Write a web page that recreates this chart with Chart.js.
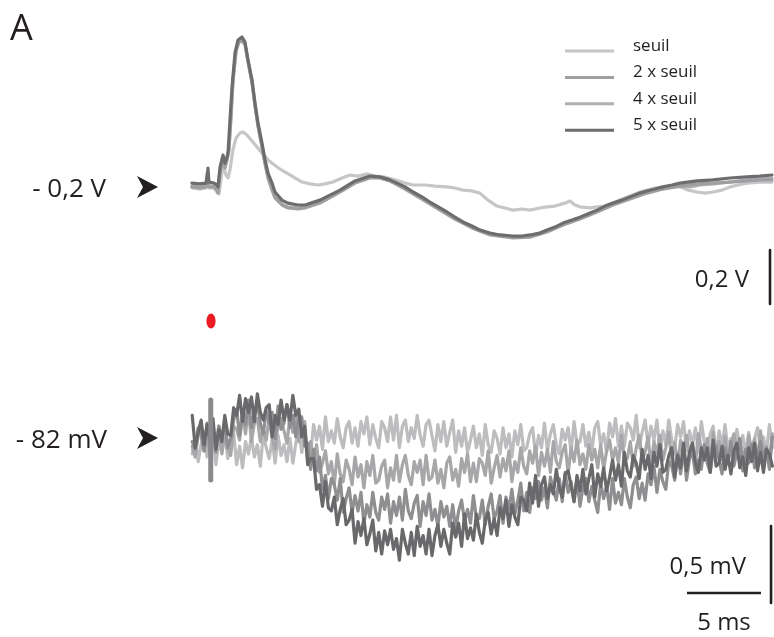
<!DOCTYPE html>
<html><head><meta charset="utf-8">
<script src="https://cdn.jsdelivr.net/npm/chart.js@4"></script>
<style>html,body{margin:0;padding:0;background:#fff;}#wrap{width:774px;height:637px;}</style>
</head><body><div id="wrap"><canvas id="c" width="774" height="637"></canvas></div>
<script>
// ---------- DATA ----------
// Top panel: field potential (V), [time ms, value V]
const topSeuil = [[-1.22,-0.211],[-0.68,-0.215],[-0.27,-0.211],[-0.14,-0.196],[-0.07,-0.211],[0.27,-0.211],[0.47,-0.226],[0.61,-0.233],[0.81,-0.152],[0.95,-0.137],[1.08,-0.163],[1.22,-0.174],[1.35,-0.144],[1.55,-0.070],[1.76,-0.026],[2.03,-0.007],[2.23,-0.004],[2.50,-0.015],[2.84,-0.037],[3.18,-0.059],[3.51,-0.081],[3.92,-0.107],[4.26,-0.122],[4.73,-0.141],[5.20,-0.156],[5.74,-0.174],[6.22,-0.189],[6.76,-0.196],[7.30,-0.200],[7.77,-0.196],[8.31,-0.189],[8.92,-0.174],[9.46,-0.163],[10.00,-0.167],[10.61,-0.159],[11.15,-0.167],[11.69,-0.170],[12.50,-0.181],[13.18,-0.193],[13.72,-0.200],[14.53,-0.200],[15.20,-0.204],[16.01,-0.207],[16.55,-0.211],[17.09,-0.219],[17.70,-0.222],[18.24,-0.230],[18.78,-0.256],[19.39,-0.278],[19.93,-0.285],[20.47,-0.293],[21.08,-0.289],[21.62,-0.293],[22.30,-0.285],[22.77,-0.281],[23.31,-0.278],[23.99,-0.267],[24.32,-0.259],[24.66,-0.274],[25.00,-0.281],[25.68,-0.285],[26.15,-0.281],[26.69,-0.278],[27.23,-0.267],[27.84,-0.252],[28.38,-0.241],[29.05,-0.226],[29.53,-0.219],[30.07,-0.211],[30.61,-0.207],[31.22,-0.204],[31.76,-0.207],[32.30,-0.219],[32.91,-0.226],[33.45,-0.230],[33.99,-0.226],[34.59,-0.219],[35.14,-0.207],[35.68,-0.200],[36.28,-0.193],[37.16,-0.189],[37.97,-0.189]];
const top2x = [[-1.22,-0.207],[-0.68,-0.211],[-0.27,-0.207],[-0.14,-0.181],[-0.07,-0.207],[0.27,-0.207],[0.47,-0.219],[0.54,-0.230],[0.68,-0.152],[0.88,-0.107],[1.01,-0.137],[1.15,-0.107],[1.28,-0.070],[1.42,0.059],[1.55,0.189],[1.76,0.300],[1.96,0.330],[2.16,0.333],[2.36,0.322],[2.57,0.256],[2.84,0.178],[3.04,0.093],[3.24,0.019],[3.51,-0.059],[3.72,-0.122],[3.92,-0.174],[4.19,-0.219],[4.39,-0.248],[4.86,-0.274],[5.27,-0.285],[5.95,-0.289],[6.42,-0.285],[7.43,-0.267],[8.78,-0.226],[9.80,-0.193],[10.81,-0.174],[11.49,-0.174],[12.16,-0.185],[13.18,-0.215],[14.32,-0.252],[15.54,-0.293],[16.55,-0.326],[17.70,-0.359],[18.92,-0.385],[20.47,-0.396],[21.62,-0.393],[22.77,-0.374],[23.85,-0.348],[25.00,-0.326],[26.15,-0.300],[27.23,-0.274],[28.38,-0.252],[29.53,-0.230],[30.61,-0.215],[31.76,-0.204],[32.91,-0.196],[33.99,-0.193],[35.14,-0.189],[36.28,-0.185],[37.16,-0.181],[37.97,-0.181]];
const top4x = [[-1.22,-0.204],[-0.68,-0.207],[-0.27,-0.204],[-0.14,-0.167],[-0.07,-0.204],[0.27,-0.204],[0.47,-0.215],[0.54,-0.222],[0.68,-0.144],[0.88,-0.100],[1.01,-0.130],[1.15,-0.104],[1.28,-0.063],[1.42,0.048],[1.55,0.181],[1.76,0.293],[1.96,0.333],[2.16,0.337],[2.36,0.326],[2.57,0.259],[2.84,0.181],[3.04,0.096],[3.24,0.022],[3.51,-0.056],[3.72,-0.119],[3.92,-0.170],[4.19,-0.211],[4.39,-0.241],[4.86,-0.270],[5.27,-0.281],[5.95,-0.285],[6.42,-0.281],[7.43,-0.263],[8.78,-0.222],[9.80,-0.189],[10.81,-0.170],[11.49,-0.174],[12.16,-0.185],[13.18,-0.211],[14.32,-0.248],[15.54,-0.289],[16.55,-0.322],[17.70,-0.356],[18.92,-0.381],[20.47,-0.393],[21.62,-0.389],[22.77,-0.370],[23.85,-0.344],[25.00,-0.322],[26.15,-0.296],[27.23,-0.270],[28.38,-0.248],[29.53,-0.226],[30.61,-0.211],[31.76,-0.204],[32.43,-0.207],[33.11,-0.200],[33.99,-0.196],[35.14,-0.189],[36.28,-0.181],[37.16,-0.178],[37.97,-0.174]];
const top5x = [[-1.22,-0.193],[-0.68,-0.196],[-0.27,-0.193],[-0.17,-0.152],[-0.14,-0.137],[-0.07,-0.189],[0.27,-0.193],[0.47,-0.200],[0.54,-0.207],[0.68,-0.133],[0.88,-0.089],[1.01,-0.119],[1.15,-0.096],[1.22,-0.081],[1.35,0.041],[1.49,0.163],[1.69,0.289],[1.89,0.337],[2.16,0.348],[2.36,0.330],[2.57,0.263],[2.84,0.189],[3.04,0.104],[3.24,0.030],[3.51,-0.044],[3.72,-0.107],[3.92,-0.156],[4.19,-0.193],[4.39,-0.226],[4.86,-0.256],[5.27,-0.267],[5.95,-0.274],[6.42,-0.274],[7.43,-0.256],[8.78,-0.219],[9.80,-0.185],[10.81,-0.167],[11.49,-0.170],[12.16,-0.181],[12.64,-0.193],[13.18,-0.207],[13.72,-0.226],[14.32,-0.244],[14.86,-0.263],[15.54,-0.285],[16.01,-0.300],[16.55,-0.319],[17.09,-0.337],[17.70,-0.352],[18.24,-0.367],[18.92,-0.378],[19.59,-0.385],[20.47,-0.389],[21.08,-0.389],[21.62,-0.385],[22.30,-0.378],[22.77,-0.367],[23.31,-0.356],[23.85,-0.341],[24.46,-0.330],[25.00,-0.319],[25.68,-0.304],[26.15,-0.293],[26.69,-0.278],[27.23,-0.267],[27.84,-0.256],[28.38,-0.244],[29.05,-0.230],[29.53,-0.222],[30.07,-0.215],[30.61,-0.207],[31.22,-0.200],[31.76,-0.193],[32.91,-0.185],[33.99,-0.181],[35.14,-0.174],[36.28,-0.170],[37.16,-0.167],[37.97,-0.163]];

// Bottom panel: membrane potential (mV), on a common time base (ms)
const botTime = [-1.2,-1,-0.8,-0.6,-0.4,-0.2,0,0.2,0.4,0.6,0.8,1,1.2,1.4,1.6,1.8,2,2.2,2.4,2.6,
2.8,3,3.2,3.4,3.6,3.8,4,4.2,4.4,4.6,4.8,5,5.2,5.4,5.6,5.8,6,6.2,6.4,6.6,
6.8,7,7.2,7.4,7.6,7.8,8,8.2,8.4,8.6,8.8,9,9.2,9.4,9.6,9.8,10,10.2,10.4,10.6,
10.8,11,11.2,11.4,11.6,11.8,12,12.2,12.4,12.6,12.8,13,13.2,13.4,13.6,13.8,14,14.2,14.4,14.6,
14.8,15,15.2,15.4,15.6,15.8,16,16.2,16.4,16.6,16.8,17,17.2,17.4,17.6,17.8,18,18.2,18.4,18.6,
18.8,19,19.2,19.4,19.6,19.8,20,20.2,20.4,20.6,20.8,21,21.2,21.4,21.6,21.8,22,22.2,22.4,22.6,
22.8,23,23.2,23.4,23.6,23.8,24,24.2,24.4,24.6,24.8,25,25.2,25.4,25.6,25.8,26,26.2,26.4,26.6,
26.8,27,27.2,27.4,27.6,27.8,28,28.2,28.4,28.6,28.8,29,29.2,29.4,29.6,29.8,30,30.2,30.4,30.6,
30.8,31,31.2,31.4,31.6,31.8,32,32.2,32.4,32.6,32.8,33,33.2,33.4,33.6,33.8,34,34.2,34.4,34.6,
34.8,35,35.2,35.4,35.6,35.8,36,36.2,36.4,36.6,36.8,37,37.2,37.4,37.6,37.8,38];
const botSeuil = [-82.11,-82.00,-82.16,-82.05,-81.97,-82.13,-82.08,-81.99,-82.18,-82.02,-82.10,-81.98,-82.14,-82.07,-81.98,-82.18,-82.06,-82.20,-82.03,-82.11,
-82.00,-82.13,-82.05,-82.19,-81.98,-82.07,-82.14,-82.02,-82.17,-81.99,-82.12,-82.05,-82.16,-82.01,-82.17,-82.04,-81.96,-82.10,-81.98,-82.06,
-82.11,-81.92,-82.02,-81.93,-82.08,-81.87,-82.03,-81.96,-82.04,-81.88,-82.00,-82.07,-81.94,-81.90,-82.04,-81.94,-82.06,-81.90,-81.98,-81.87,
-82.05,-81.92,-82.01,-82.07,-81.90,-81.94,-82.03,-81.87,-82.02,-81.86,-82.07,-81.93,-81.89,-82.03,-81.94,-82.01,-81.86,-81.99,-82.06,-81.92,
-81.89,-81.99,-82.09,-81.92,-82.03,-81.90,-82.06,-81.97,-81.89,-82.10,-81.96,-82.06,-81.94,-82.10,-82.02,-81.93,-82.07,-81.98,-82.12,-81.92,
-82.05,-82.10,-81.96,-82.01,-82.11,-81.94,-82.07,-81.98,-82.13,-81.96,-82.05,-81.92,-82.09,-82.07,-81.98,-81.94,-82.12,-81.99,-82.07,-81.91,
-82.09,-81.98,-81.92,-82.05,-82.11,-81.95,-82.02,-81.94,-82.10,-81.90,-82.05,-82.03,-81.92,-82.06,-81.97,-82.09,-81.94,-81.90,-82.05,-81.98,
-82.10,-81.91,-82.00,-81.88,-82.06,-81.93,-82.06,-81.91,-81.94,-82.02,-81.86,-82.07,-81.97,-81.89,-82.05,-81.93,-82.02,-81.89,-82.09,-81.96,
-82.05,-81.89,-82.02,-82.07,-81.92,-82.00,-81.90,-82.09,-81.96,-82.05,-81.94,-82.10,-81.90,-82.03,-82.08,-81.98,-81.93,-82.12,-81.96,-82.06,
-81.92,-82.08,-82.01,-82.11,-81.95,-82.06,-81.99,-82.11,-81.97,-82.13,-82.01,-81.94,-82.08,-82.00,-82.10,-81.92,-82.07];
const bot2x = [-82.06,-82.13,-81.99,-81.95,-82.09,-82.00,-82.12,-81.96,-82.04,-81.93,-82.11,-81.98,-82.07,-82.12,-81.93,-81.95,-82.02,-81.85,-81.98,-81.82,
-82.03,-81.91,-81.88,-82.03,-81.95,-82.02,-81.87,-82.01,-82.08,-81.92,-81.88,-81.96,-82.04,-81.87,-81.97,-81.85,-82.03,-81.96,-81.90,-82.14,
-82.03,-82.15,-82.05,-82.23,-82.17,-82.09,-82.24,-82.16,-82.31,-82.11,-82.24,-82.29,-82.15,-82.21,-82.31,-82.13,-82.26,-82.18,-82.33,-82.16,
-82.25,-82.12,-82.30,-82.28,-82.19,-82.15,-82.33,-82.20,-82.28,-82.12,-82.29,-82.18,-82.12,-82.25,-82.31,-82.16,-82.23,-82.15,-82.31,-82.12,
-82.28,-82.26,-82.15,-82.30,-82.21,-82.33,-82.17,-82.13,-82.28,-82.21,-82.32,-82.14,-82.23,-82.11,-82.29,-82.17,-82.29,-82.14,-82.17,-82.25,
-82.09,-82.30,-82.20,-82.12,-82.26,-82.14,-82.22,-82.09,-82.29,-82.16,-82.23,-82.07,-82.19,-82.24,-82.09,-82.17,-82.06,-82.25,-82.10,-82.19,
-82.08,-82.23,-82.03,-82.16,-82.20,-82.10,-82.05,-82.24,-82.07,-82.16,-82.02,-82.18,-82.11,-82.21,-82.05,-82.15,-82.08,-82.20,-82.05,-82.21,
-82.09,-82.02,-82.15,-82.07,-82.17,-81.99,-82.14,-82.14,-82.03,-82.19,-82.07,-81.99,-82.15,-82.10,-82.00,-82.19,-82.03,-82.11,-81.99,-82.15,
-82.07,-81.97,-82.16,-82.04,-82.18,-82.02,-82.09,-81.99,-82.12,-82.04,-82.18,-81.98,-82.07,-82.14,-82.01,-82.16,-81.97,-82.10,-82.03,-82.15,
-82.00,-82.17,-82.05,-81.98,-82.13,-82.02,-82.11,-82.18,-81.99,-82.09,-82.01,-82.16,-81.96,-82.12,-82.06,-82.14,-81.98];
const bot4x = [-82.03,-82.08,-81.94,-81.99,-82.09,-81.91,-82.04,-81.95,-82.10,-81.93,-82.02,-81.89,-82.07,-82.01,-81.89,-81.82,-81.99,-81.85,-81.92,-81.76,
-81.94,-81.83,-81.78,-81.91,-81.98,-81.83,-81.91,-81.84,-82.01,-81.80,-81.95,-81.91,-81.79,-81.94,-81.86,-82.00,-81.87,-81.87,-82.06,-82.04,
-82.21,-82.08,-82.22,-82.13,-82.34,-82.25,-82.40,-82.27,-82.31,-82.41,-82.27,-82.49,-82.40,-82.33,-82.49,-82.38,-82.48,-82.36,-82.56,-82.44,
-82.52,-82.36,-82.49,-82.54,-82.39,-82.47,-82.37,-82.56,-82.42,-82.51,-82.39,-82.54,-82.34,-82.48,-82.53,-82.43,-82.38,-82.58,-82.42,-82.51,
-82.37,-82.54,-82.47,-82.58,-82.42,-82.52,-82.45,-82.58,-82.44,-82.60,-82.48,-82.41,-82.55,-82.47,-82.56,-82.38,-82.53,-82.53,-82.41,-82.57,
-82.45,-82.37,-82.53,-82.48,-82.38,-82.56,-82.39,-82.47,-82.34,-82.50,-82.41,-82.30,-82.48,-82.36,-82.49,-82.33,-82.40,-82.29,-82.41,-82.33,
-82.46,-82.26,-82.34,-82.41,-82.27,-82.42,-82.23,-82.36,-82.29,-82.42,-82.27,-82.45,-82.33,-82.27,-82.42,-82.32,-82.41,-82.49,-82.30,-82.40,
-82.32,-82.47,-82.27,-82.43,-82.36,-82.44,-82.27,-82.39,-82.46,-82.31,-82.26,-82.40,-82.30,-82.41,-82.24,-82.31,-82.19,-82.36,-82.21,-82.29,
-82.34,-82.16,-82.19,-82.28,-82.11,-82.24,-82.07,-82.28,-82.14,-82.10,-82.24,-82.15,-82.21,-82.05,-82.17,-82.23,-82.09,-82.06,-82.15,-82.24,
-82.07,-82.17,-82.03,-82.19,-82.10,-82.01,-82.22,-82.08,-82.17,-82.05,-82.20,-82.12,-82.03,-82.17,-82.07,-82.21,-82.00];
const bot5x = [-81.86,-82.07,-81.97,-81.89,-82.05,-81.92,-82.01,-81.88,-82.08,-81.95,-82.03,-81.86,-81.98,-81.99,-81.81,-81.86,-81.73,-81.90,-81.75,-81.84,
-81.74,-81.90,-81.72,-81.84,-81.89,-81.81,-81.79,-82.00,-81.86,-81.92,-81.76,-81.89,-81.79,-81.89,-81.73,-81.86,-81.82,-82.00,-81.93,-82.18,
-82.14,-82.14,-82.34,-82.31,-82.45,-82.29,-82.46,-82.48,-82.39,-82.57,-82.47,-82.40,-82.57,-82.54,-82.47,-82.69,-82.55,-82.64,-82.53,-82.70,
-82.63,-82.54,-82.74,-82.62,-82.76,-82.61,-82.70,-82.60,-82.73,-82.66,-82.80,-82.60,-82.69,-82.76,-82.62,-82.77,-82.58,-82.71,-82.64,-82.76,
-82.60,-82.77,-82.64,-82.57,-82.71,-82.60,-82.69,-82.76,-82.56,-82.65,-82.56,-82.71,-82.50,-82.66,-82.59,-82.67,-82.50,-82.62,-82.69,-82.54,
-82.49,-82.63,-82.53,-82.64,-82.46,-82.53,-82.41,-82.58,-82.44,-82.52,-82.57,-82.39,-82.41,-82.48,-82.30,-82.43,-82.25,-82.45,-82.31,-82.26,
-82.40,-82.31,-82.37,-82.21,-82.33,-82.39,-82.24,-82.22,-82.32,-82.42,-82.25,-82.35,-82.21,-82.37,-82.27,-82.18,-82.39,-82.24,-82.32,-82.20,
-82.35,-82.26,-82.15,-82.28,-82.18,-82.32,-82.10,-82.22,-82.26,-82.12,-82.17,-82.27,-82.08,-82.21,-82.12,-82.27,-82.10,-82.19,-82.05,-82.23,
-82.21,-82.12,-82.07,-82.26,-82.12,-82.20,-82.04,-82.22,-82.10,-82.04,-82.17,-82.23,-82.07,-82.15,-82.07,-82.23,-82.02,-82.19,-82.17,-82.06,
-82.21,-82.12,-82.24,-82.09,-82.04,-82.20,-82.13,-82.25,-82.07,-82.16,-82.04,-82.22,-82.10,-82.23,-82.08,-82.11,-82.19];
// stimulus artifact on the intracellular trace (time ms, mV)
const stimArtifact = [[0.05,-81.76],[0.05,-82.28]];

const legendLabels = ['seuil','2 x seuil','4 x seuil','5 x seuil'];
const topBaselineV = -0.2;   // "- 0,2 V"
const botBaselinemV = -82;   // "- 82 mV"

// ---------- STYLE / LAYOUT ----------
const topColors = ['#c6c6c8','#9f9fa1','#b0b0b2','#6d6d6f'];
const botColors = ['#bdbdbf','#a7a7a9','#8f8f91','#69696b'];
const ink = '#231f20';
const bars = {
  vBar: {x: 37.84, from: -0.441, len: 0.2},
  mvBar: {x: 37.91, from: -82.578, len: 0.5},
  msBar: {y: -83.013, from: 32.23, len: 5}
};

const pairs = a => a.map(p => ({x:p[0], y:p[1]}));
const series = vals => botTime.map((t,i) => ({x:t, y:vals[i]}));

function topDs(label, arr, color, order){
  return {label, data: pairs(arr), borderColor: color, borderWidth: 3.2, yAxisID:'yV', order};
}
function botDs(label, vals, color, order){
  return {label, data: series(vals), borderColor: color, borderWidth: 3.2, yAxisID:'ymV', order};
}
function barDs(points, axis){
  return {data: points, borderColor: ink, borderWidth: 2.6, yAxisID: axis, order: 0, borderCapStyle:'butt'};
}

const datasets = [
  topDs('seuil', topSeuil, topColors[0], 14),
  topDs('4 x seuil', top4x, topColors[2], 13),
  topDs('2 x seuil', top2x, topColors[1], 12),
  topDs('5 x seuil', top5x, topColors[3], 11),
  botDs('seuil', botSeuil, botColors[0], 24),
  botDs('2 x seuil', bot2x, botColors[1], 23),
  botDs('4 x seuil', bot4x, botColors[2], 22),
  botDs('5 x seuil', bot5x, botColors[3], 21),
  {data: pairs(stimArtifact), borderColor:'#8a8a8c', borderWidth:5, yAxisID:'ymV', order:20, borderCapStyle:'butt'},
  barDs([{x:bars.vBar.x,y:bars.vBar.from},{x:bars.vBar.x,y:bars.vBar.from-bars.vBar.len}], 'yV'),
  barDs([{x:bars.mvBar.x,y:bars.mvBar.from},{x:bars.mvBar.x,y:bars.mvBar.from-bars.mvBar.len}], 'ymV'),
  barDs([{x:bars.msBar.from,y:bars.msBar.y},{x:bars.msBar.from+bars.msBar.len,y:bars.msBar.y}], 'ymV')
];

function arrow(c, tipX, tipY){
  c.beginPath();
  c.moveTo(tipX, tipY);
  c.lineTo(tipX-21, tipY-11);
  c.lineTo(tipX-15, tipY);
  c.lineTo(tipX-21, tipY+11);
  c.closePath();
  c.fill();
}

const annot = {
  id: 'annot',
  afterDatasetsDraw(ch){
    const c = ch.ctx, xs = ch.scales.x, yV = ch.scales.yV, ym = ch.scales.ymV;
    c.save();
    c.fillStyle = ink;
    c.textBaseline = 'alphabetic';
    c.textAlign = 'left';
    c.font = '36px "Open Sans"';
    c.fillText('A', 10, 40);

    const y1 = yV.getPixelForValue(topBaselineV);
    const y2 = ym.getPixelForValue(botBaselinemV);
    c.font = '26px "Open Sans"';
    c.textAlign = 'right';
    c.fillText('- 0,2 V', 106, y1 + 12);
    c.fillText('- 82 mV', 107, y2 + 11);
    arrow(c, 158, y1 + 2);
    arrow(c, 158, y2 + 1);

    c.font = '24px "Open Sans"';
    c.textAlign = 'right';
    c.fillText('0,2 V', 749, yV.getPixelForValue(bars.vBar.from - bars.vBar.len/2) + 10);
    c.fillText('0,5 mV', 746, ym.getPixelForValue(bars.mvBar.from - 0.3) + 2);
    c.textAlign = 'center';
    c.fillText('5 ms', xs.getPixelForValue(bars.msBar.from + bars.msBar.len/2), ym.getPixelForValue(bars.msBar.y) + 37);

    c.font = '17px "Open Sans"';
    c.textAlign = 'left';
    legendLabels.forEach((lab, i) => {
      const y = 51 + i * 26.4;
      c.strokeStyle = topColors[i];
      c.lineWidth = 3;
      c.beginPath(); c.moveTo(565, y); c.lineTo(614, y); c.stroke();
      c.fillStyle = ink;
      c.fillText(lab, 633, y);
    });

    c.fillStyle = '#ed1c24';
    c.beginPath();
    c.ellipse(xs.getPixelForValue(0) + 1, 321, 4.6, 7.6, 0, 0, Math.PI*2);
    c.fill();
    c.restore();
  }
};

new Chart(document.getElementById('c'), {
  type: 'line',
  data: {datasets},
  options: {
    responsive: false, animation: false, devicePixelRatio: 1, events: [],
    layout: {padding: 0},
    plugins: {legend: {display:false}, tooltip: {enabled:false}},
    scales: {
      x: {type:'linear', display:false, min:-14.19, max:38.11},
      yV: {type:'linear', display:false, position:'left', min:-1.8741, max:0.4852},
      ymV: {type:'linear', display:false, position:'right', min:-83.299, max:-79.162}
    },
    elements: {
      point: {radius:0, hoverRadius:0},
      line: {tension:0, borderJoinStyle:'round', borderCapStyle:'round', fill:false}
    }
  },
  plugins: [annot]
});
</script>
</body></html>
